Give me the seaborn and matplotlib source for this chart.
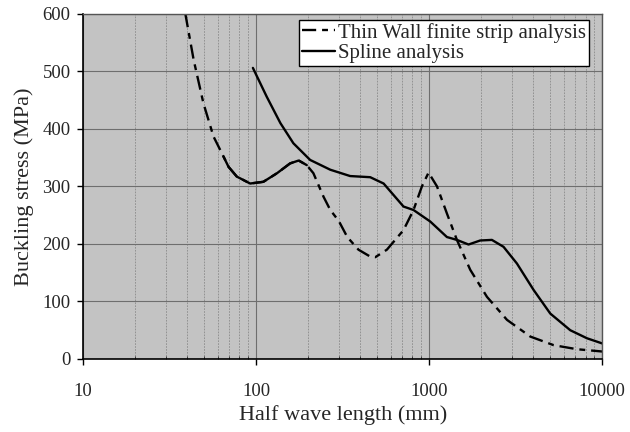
import numpy as np
import pandas as pd
import matplotlib
matplotlib.use("Agg")
import matplotlib.pyplot as plt
import seaborn as sns
from matplotlib.ticker import FixedLocator, LogLocator, NullFormatter

# %% data
thin_wall_x = [38.9, 43.5, 49.5, 56.6, 64.7, 69.2, 77.3, 92.3, 110, 132, 157, 176,
               196, 214, 245, 268, 300, 336, 390, 456, 488, 569, 710, 811, 907,
               991, 1109, 1265, 1445, 1726, 2156, 2814, 3837, 5240, 7140, 10000]
thin_wall_y = [601, 520, 445, 387, 352, 334, 317, 305, 308, 323, 340, 345,
               337, 323, 282, 259, 240, 212, 190, 178, 177, 190, 224, 259, 300,
               324, 300, 253, 207, 155, 108, 68, 39, 24, 17, 13]

spline_x = [95.7, 115, 138, 164, 205, 268, 349, 456, 545, 710, 811, 1013, 1265,
            1445, 1687, 1971, 2302, 2687, 3211, 4010, 5005, 6532, 8160, 10000]
spline_y = [506, 456, 410, 375, 346, 329, 318, 316, 305, 265, 259, 239, 212,
            207, 199, 206, 207, 195, 166, 120, 79, 50, 36, 27]

x_ticks = [10, 100, 1000, 10000]
y_ticks = [0, 100, 200, 300, 400, 500, 600]

thin_wall = pd.DataFrame({"length": thin_wall_x, "stress": thin_wall_y})
spline = pd.DataFrame({"length": spline_x, "stress": spline_y})
# the scan shows this stretch of the dashed curve as a solid stroke
thin_solid = thin_wall[(thin_wall["length"] >= 64) & (thin_wall["length"] <= 200)]

# %% plot
sns.set_style("ticks")
plt.rcParams["font.family"] = ["Liberation Serif", "DejaVu Serif"]

fig = plt.figure(figsize=(6.3, 4.32), dpi=100)
ax = fig.add_axes([0.132, 0.169, 0.824, 0.799])
ax.set_facecolor("#c3c3c3")

dash_style = (0, (6, 2.5, 2.5, 2.5))
sns.lineplot(data=thin_wall, x="length", y="stress", ax=ax, color="black",
             linewidth=1.7, linestyle=dash_style, estimator=None, sort=False)
sns.lineplot(data=thin_solid, x="length", y="stress", ax=ax, color="black",
             linewidth=1.7, estimator=None, sort=False)
sns.lineplot(data=spline, x="length", y="stress", ax=ax, color="black",
             linewidth=1.7, estimator=None, sort=False)

ax.set_xscale("log")
ax.set_xlim(10, 10000)
ax.set_ylim(0, 600)
ax.xaxis.set_major_locator(FixedLocator(x_ticks))
ax.set_xticklabels([str(t) for t in x_ticks])
ax.xaxis.set_minor_locator(LogLocator(base=10, subs=np.arange(2, 10)))
ax.xaxis.set_minor_formatter(NullFormatter())
ax.set_yticks(y_ticks)

ax.grid(True, which="major", color="#6e6e6e", linewidth=0.8)
ax.grid(True, which="minor", axis="x", color="#8a8a8a", linewidth=0.6,
        linestyle=(0, (2, 1.5)))
ax.set_axisbelow(True)

ax.tick_params(which="major", direction="out", length=4, width=1, labelsize=13.5,
               color="black", pad=5)
ax.tick_params(axis="x", which="major", pad=13)
ax.tick_params(which="minor", direction="in", length=2.5, width=0.6)

for side in ["left", "bottom"]:
    ax.spines[side].set_color("black")
    ax.spines[side].set_linewidth(1.2)
for side in ["top", "right"]:
    ax.spines[side].set_color("#555555")
    ax.spines[side].set_linewidth(1.0)

ax.set_xlabel("Half wave length (mm)", fontsize=16, labelpad=4)
ax.set_ylabel("Buckling stress (MPa)", fontsize=16, labelpad=6)

lines = ax.get_lines()
handles = [lines[0], lines[2]]
leg = ax.legend(handles, ["Thin Wall finite strip analysis", "Spline analysis"],
                loc="upper right", bbox_to_anchor=(0.975, 0.983), borderaxespad=0,
                fontsize=15, frameon=True, fancybox=False, framealpha=1,
                edgecolor="black", handlelength=1.6, handletextpad=0.15,
                labelspacing=0.05, borderpad=0.15)
leg.get_frame().set_linewidth(1.0)

plt.savefig("out.png", dpi=100)
